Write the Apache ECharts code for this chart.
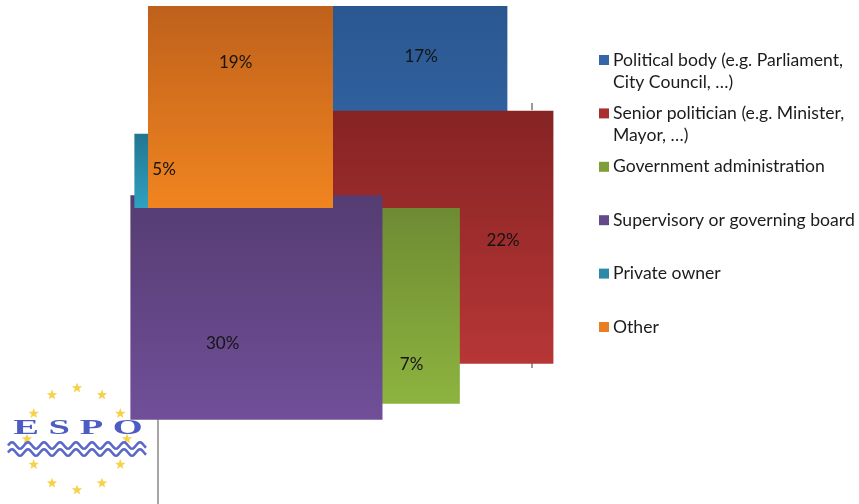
<!DOCTYPE html>
<html>
<head>
<meta charset="utf-8">
<script src="https://cdn.jsdelivr.net/npm/echarts@6/dist/echarts.min.js"></script>
<style>
  html, body { margin: 0; padding: 0; background: #ffffff; }
  #chart { width: 859px; height: 504px; }
</style>
</head>
<body>
<div id="chart"></div>
<script>
// Who decides: shares of respondents (%)
const categories = [
  'Political body (e.g. Parliament,\nCity Council, …)',
  'Senior politician (e.g. Minister,\nMayor, …)',
  'Government administration',
  'Supervisory or governing board',
  'Private owner',
  'Other'
];
const shares = [17, 22, 7, 30, 5, 19];

// Fill palette: top and bottom stops of each vertical gradient
const topColors    = ['#2a5790', '#862323', '#6e8b33', '#553c72', '#217690', '#bf611c'];
const bottomColors = ['#3569aa', '#b73636', '#8db33f', '#704f98', '#30a1c1', '#f0841f'];
const legendColors = ['#3466a8', '#a83030', '#7e9e3a', '#644a8a', '#2a8aa8', '#e97f24'];

const FONT = '"Lato", "Liberation Sans", sans-serif';

// Start/end angle of each share, clockwise from 12 o'clock
const total = shares.reduce((a, b) => a + b, 0);
const angles = [];
let acc = 0;
shares.forEach(v => {
  const a0 = acc / total * Math.PI * 2;
  acc += v;
  angles.push([a0, acc / total * Math.PI * 2]);
});

// Box spanned by a sector's outline (centre, arc points and Bezier handles), unit radius
function sectorBox(a0, a1) {
  const pts = [[0, 0]];
  const n = Math.max(1, Math.ceil((a1 - a0) / (Math.PI / 2) - 1e-9));
  const step = (a1 - a0) / n;
  const k = 4 / 3 * Math.tan(step / 4);
  for (let i = 0; i < n; i++) {
    const s = a0 + i * step, e = s + step;
    const p0 = [Math.sin(s), -Math.cos(s)];
    const p3 = [Math.sin(e), -Math.cos(e)];
    pts.push(p0,
      [p0[0] + k * Math.cos(s), p0[1] + k * Math.sin(s)],
      [p3[0] - k * Math.cos(e), p3[1] - k * Math.sin(e)],
      p3);
  }
  const xs = pts.map(p => p[0]), ys = pts.map(p => p[1]);
  return [Math.min(...xs), Math.max(...xs), Math.min(...ys), Math.max(...ys)];
}

function renderItem(params, api) {
  const i = params.dataIndex;
  const [a0, a1] = angles[i];
  const [x0, x1, y0, y1] = sectorBox(a0, a1);
  const p0 = api.coord([x0, y0]);
  const p1 = api.coord([x1, y1]);
  const mid = (a0 + a1) / 2;
  const lp = api.coord([0.87 * Math.sin(mid), -0.87 * Math.cos(mid)]);
  return {
    type: 'group',
    children: [
      {
        type: 'rect',
        shape: { x: p0[0], y: p0[1], width: p1[0] - p0[0], height: p1[1] - p0[1] },
        style: {
          fill: {
            type: 'linear', x: 0, y: 0, x2: 0, y2: 1,
            colorStops: [
              { offset: 0, color: topColors[i] },
              { offset: 1, color: bottomColors[i] }
            ]
          }
        }
      },
      {
        type: 'text',
        z2: 100,
        style: {
          text: api.value(0) + '%',
          x: lp[0], y: lp[1],
          align: 'center', verticalAlign: 'middle',
          font: '17px ' + FONT,
          fill: '#141414'
        }
      }
    ]
  };
}

// Legend entries
const legendTop = 60, legendStep = 53.4;
const legendGraphics = [];
categories.forEach((name, i) => {
  const cy = legendTop + i * legendStep;
  legendGraphics.push({
    type: 'rect', shape: { x: 599, y: cy - 5, width: 10, height: 10 },
    style: { fill: legendColors[i] }
  });
  legendGraphics.push({
    type: 'text',
    style: {
      text: name, x: 613, y: cy - 11, lineHeight: 22,
      verticalAlign: 'top', align: 'left',
      font: '17.6px ' + FONT, fill: '#1c1c1c'
    }
  });
});

// ESPO emblem: ring of stars, lettering and waves
const logo = [];
const starPts = (cx, cy, ro, ri) => {
  const p = [];
  for (let j = 0; j < 10; j++) {
    const r = j % 2 ? ri : ro;
    const a = -Math.PI / 2 + j * Math.PI / 5;
    p.push([cx + r * Math.cos(a), cy + r * Math.sin(a)]);
  }
  return p;
};
for (let s = 0; s < 12; s++) {
  const a = s * Math.PI / 6;
  logo.push({
    type: 'polygon',
    shape: { points: starPts(77 + 50 * Math.sin(a), 439 - 51 * Math.cos(a), 5.5, 2.3) },
    style: { fill: '#f6d24a' }
  });
}
logo.push({
  type: 'text', x: 78, y: 428, scaleX: 1.75,
  style: {
    text: 'E S P O', x: 0, y: 0, align: 'center', verticalAlign: 'middle',
    font: 'bold 22px "Liberation Serif", serif', fill: '#4d5cc2'
  }
});
const wave = (y) => {
  const pts = [];
  for (let x = 8; x <= 146; x += 1) pts.push([x, y - 3.2 * Math.sin((x - 8) / 16 * 2 * Math.PI)]);
  return pts;
};
[445.5, 452.5].forEach(y => logo.push({
  type: 'polyline', shape: { points: wave(y) },
  style: { fill: null, stroke: '#5a68cc', lineWidth: 2.6 }
}));

const chart = echarts.init(document.getElementById('chart'), null, { renderer: 'canvas' });
chart.setOption({
  animation: false,
  backgroundColor: '#ffffff',
  grid: { left: 134, top: 6, width: 398, height: 404 },
  xAxis: { type: 'value', min: -1, max: 1, show: false },
  yAxis: { type: 'value', min: -1, max: 1, inverse: true, show: false },
  series: [{
    type: 'custom',
    coordinateSystem: 'cartesian2d',
    renderItem: renderItem,
    clip: false,
    data: shares.map((v, i) => ({ name: categories[i], value: [v] }))
  }],
  graphic: [
    { type: 'line', shape: { x1: 158, y1: 418, x2: 158, y2: 504 }, style: { stroke: '#a6a6a6', lineWidth: 2 } },
    { type: 'line', shape: { x1: 532, y1: 103, x2: 532, y2: 110 }, style: { stroke: '#9a9a9a', lineWidth: 2 } },
    { type: 'line', shape: { x1: 532, y1: 358, x2: 532, y2: 368 }, style: { stroke: '#9a9a9a', lineWidth: 2 } },
    { type: 'group', children: logo },
    { type: 'group', children: legendGraphics }
  ]
});
</script>
</body>
</html>
